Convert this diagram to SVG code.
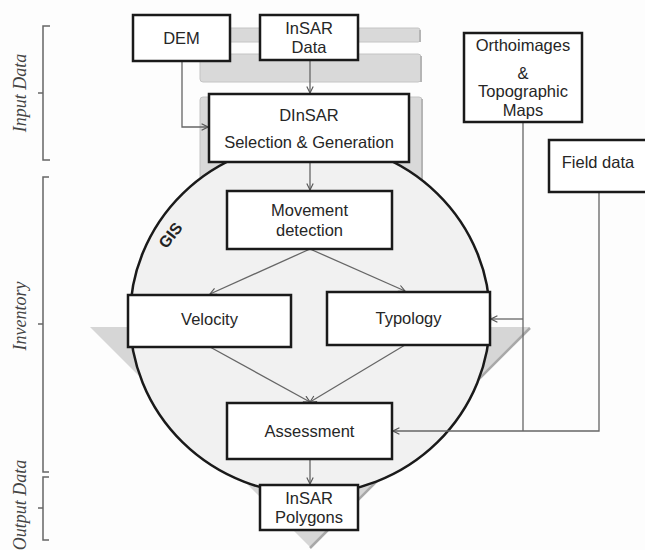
<svg xmlns="http://www.w3.org/2000/svg" width="645" height="550" viewBox="0 0 645 550">
<defs>
<style>
.box{fill:#fff;stroke:#1a1a1a;stroke-width:2.5}
.t{font-family:"Liberation Sans",Arial,sans-serif;font-size:16.5px;fill:#262626;text-anchor:middle}
.lab{font-family:"Liberation Serif","Times New Roman",serif;font-style:italic;font-size:18px;fill:#444;text-anchor:middle}
.br{fill:none;stroke:#666;stroke-width:1.5}
.c{fill:none;stroke:#666;stroke-width:1.3}
.plate{fill:#d9d9d9;stroke:#c4c4c4;stroke-width:1}
</style>
<marker id="ar" viewBox="0 0 10 10" refX="9" refY="5" markerWidth="8" markerHeight="8" orient="auto" markerUnits="userSpaceOnUse">
<path d="M1,1 L9,5 L1,9" fill="none" stroke="#555" stroke-width="1.4"/>
</marker>
</defs>
<rect width="645" height="550" fill="#fdfdfd"/>

<g id="background">
<polygon points="90,327 530,327 310,547" fill="#d6d6d6"/>
<path d="M530,328 L310,548" stroke="#a8a8a8" stroke-width="2.5" fill="none"/>
<rect class="plate" x="200" y="28" width="220" height="14" rx="2"/>
<rect class="plate" x="200" y="54" width="221" height="28" rx="3"/>
<rect class="plate" x="200" y="97" width="222" height="85" rx="3"/>
<path d="M420,30 V42 M421,56 V82 M422,99 V180" stroke="#b5b5b5" stroke-width="2" fill="none"/>
</g>

<g id="gis">
<ellipse cx="310" cy="318" rx="180" ry="176" fill="#f1f1f1" stroke="#1a1a1a" stroke-width="2.5"/>
<text x="170" y="241" transform="rotate(-52 170 235)" font-family="Liberation Sans,Arial,sans-serif" font-weight="bold" font-size="16" fill="#222" text-anchor="middle">GIS</text>
</g>

<g id="brackets">
<path class="br" d="M50,26 H43 V160 H50 M43,93 H38"/>
<path class="br" d="M49,177 H43 V472 H49 M43,324 H38"/>
<path class="br" d="M49,477 H43 V540 H49 M43,508 H38"/>
<text class="lab" transform="translate(26,93) rotate(-90)">Input Data</text>
<text class="lab" transform="translate(26,316) rotate(-90)">Inventory</text>
<text class="lab" font-size="17" transform="translate(26,505) rotate(-90)">Output Data</text>
</g>

<g id="connectors">
<path class="c" d="M182,61 V127 H208" marker-end="url(#ar)"/>
<path class="c" d="M310,60 V93" marker-end="url(#ar)"/>
<path class="c" d="M310,162 V190" marker-end="url(#ar)"/>
<path class="c" d="M310,249 L210,294" marker-end="url(#ar)"/>
<path class="c" d="M310,249 L405,291" marker-end="url(#ar)"/>
<path class="c" d="M210,347 L310,402" marker-end="url(#ar)"/>
<path class="c" d="M405,345 L310,402" marker-end="url(#ar)"/>
<path class="c" d="M310,459 V484" marker-end="url(#ar)"/>
<path class="c" d="M523,122 V431"/>
<path class="c" d="M523,319 H491" marker-end="url(#ar)"/>
<path class="c" d="M599,192 V431 H393" marker-end="url(#ar)"/>
</g>

<g id="dem">
<rect class="box" x="133" y="15" width="97" height="46"/>
<text class="t" x="181.5" y="44">DEM</text>
</g>
<g id="insar-data">
<rect class="box" x="260" y="15" width="98" height="45"/>
<text class="t" x="309" y="34">InSAR</text>
<text class="t" x="309" y="53">Data</text>
</g>
<g id="dinsar">
<rect class="box" x="209" y="94" width="200" height="68"/>
<text class="t" x="309" y="121">DInSAR</text>
<text class="t" x="309" y="148">Selection &amp; Generation</text>
</g>
<g id="ortho">
<rect class="box" x="464" y="33" width="118" height="89"/>
<text class="t" x="523" y="51">Orthoimages</text>
<text class="t" x="523" y="79">&amp;</text>
<text class="t" x="523" y="97">Topographic</text>
<text class="t" x="523" y="116">Maps</text>
</g>
<g id="field">
<rect class="box" x="549" y="140" width="100" height="52"/>
<text class="t" x="598" y="168">Field data</text>
</g>
<g id="movement">
<rect class="box" x="227" y="191" width="165" height="58"/>
<text class="t" x="309.5" y="216">Movement</text>
<text class="t" x="309.5" y="236">detection</text>
</g>
<g id="velocity">
<rect class="box" x="128" y="295" width="163" height="52"/>
<text class="t" x="209.5" y="325">Velocity</text>
</g>
<g id="typology">
<rect class="box" x="327" y="292" width="163" height="53"/>
<text class="t" x="408.5" y="324">Typology</text>
</g>
<g id="assessment">
<rect class="box" x="227" y="403" width="165" height="56"/>
<text class="t" x="309.5" y="437">Assessment</text>
</g>
<g id="polygons">
<rect class="box" x="260" y="485" width="98" height="45"/>
<text class="t" x="309" y="504">InSAR</text>
<text class="t" x="309" y="523">Polygons</text>
</g>
</svg>
